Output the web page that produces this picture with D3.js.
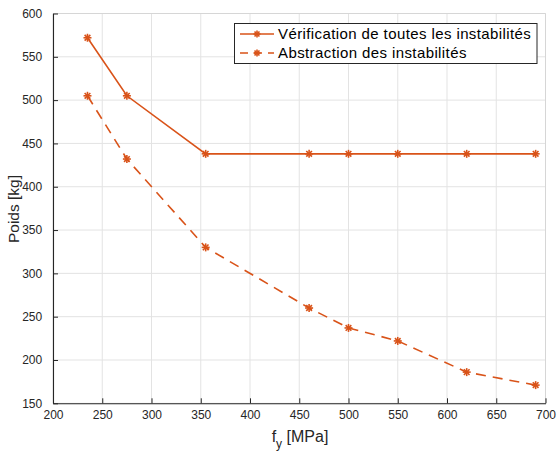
<!DOCTYPE html>
<html>
<head>
<meta charset="utf-8">
<script src="https://cdn.jsdelivr.net/npm/d3@7"></script>
<style>
  html, body { margin: 0; padding: 0; background: #fff; }
  svg { display: block; font-family: "Liberation Sans", Arial, Helvetica, sans-serif; }
</style>
</head>
<body>
<svg id="chart" width="557" height="452"></svg>
<script>
// Yield strength (MPa) tested
const fy = [235, 275, 355, 460, 500, 550, 620, 690];
// Weight (kg) when every instability is checked
const poidsToutes = [572, 505, 438, 438, 438, 438, 438, 438];
// Weight (kg) when instabilities are ignored
const poidsSans = [505, 432, 330, 260, 237, 222, 186, 171];

const xTicks = [200, 250, 300, 350, 400, 450, 500, 550, 600, 650, 700];
const yTicks = [150, 200, 250, 300, 350, 400, 450, 500, 550, 600];

const seriesNames = ["Vérification de toutes les instabilités", "Abstraction des instabilités"];

const color = "#d95319";
const svg = d3.select("#chart");

const plot = { left: 53, right: 545.5, top: 13.5, bottom: 403.3 };
const x = d3.scaleLinear().domain([200, 700]).range([plot.left, plot.right]);
const y = d3.scaleLinear().domain([150, 600]).range([plot.bottom, plot.top]);

// grid
const grid = svg.append("g").attr("stroke", "#e3e3e3").attr("stroke-width", 1);
grid.selectAll(".gx").data(xTicks).join("line")
  .attr("x1", d => x(d)).attr("x2", d => x(d)).attr("y1", plot.top).attr("y2", plot.bottom);
grid.selectAll(".gy").data(yTicks).join("line")
  .attr("y1", d => y(d)).attr("y2", d => y(d)).attr("x1", plot.left).attr("x2", plot.right);

// top and right frame edges
svg.append("line").attr("x1", plot.left).attr("x2", plot.right).attr("y1", plot.top).attr("y2", plot.top)
  .attr("stroke", "#d6d6d6");
svg.append("line").attr("x1", plot.right).attr("x2", plot.right).attr("y1", plot.top).attr("y2", plot.bottom)
  .attr("stroke", "#d6d6d6");

// axes
const xAxis = d3.axisBottom(x).tickValues(xTicks).tickSizeInner(-5).tickSizeOuter(0).tickPadding(9);
const yAxis = d3.axisLeft(y).tickValues(yTicks).tickSizeInner(-5).tickSizeOuter(0).tickPadding(9);

const gx = svg.append("g").attr("transform", `translate(0,${plot.bottom})`).call(xAxis);
const gy = svg.append("g").attr("transform", `translate(${plot.left},0)`).call(yAxis);
[gx, gy].forEach(g => {
  g.select(".domain").attr("stroke", "#262626").attr("stroke-width", 1.1);
  g.selectAll(".tick line").attr("stroke", "#262626");
  g.selectAll(".tick text").attr("fill", "#262626").attr("font-size", 12)
    .attr("font-family", "Liberation Sans, Arial, sans-serif");
});
gx.selectAll(".tick text").attr("dy", "0.55em");
gy.selectAll(".tick text").attr("dx", "-0.15em");

// axis labels
const xl = svg.append("text").attr("x", 300).attr("y", 442).attr("text-anchor", "middle")
  .attr("font-size", 16).attr("fill", "#262626");
xl.append("tspan").text("f");
xl.append("tspan").attr("font-size", 12).attr("dy", 6).text("y");
xl.append("tspan").attr("dy", -6).text(" [MPa]");

svg.append("text").attr("transform", `translate(19,209) rotate(-90)`).attr("text-anchor", "middle")
  .attr("font-size", 15.5).attr("fill", "#262626").text("Poids [kg]");

// marker: MATLAB-style asterisk
function asterisk(g, cx, cy, r) {
  const a = g.append("g").attr("transform", `translate(${cx},${cy})`)
    .attr("stroke", color).attr("stroke-width", 1.6);
  [0, 45, 90, 135].forEach(deg => {
    const t = deg * Math.PI / 180;
    a.append("line").attr("x1", -r * Math.cos(t)).attr("y1", -r * Math.sin(t))
      .attr("x2", r * Math.cos(t)).attr("y2", r * Math.sin(t));
  });
}

const line = d3.line().x(d => x(d[0])).y(d => y(d[1]));
const series = [
  { name: seriesNames[0], values: poidsToutes, dash: null },
  { name: seriesNames[1], values: poidsSans, dash: "10,7" }
];

series.forEach(s => {
  const pts = fy.map((f, i) => [f, s.values[i]]);
  svg.append("path").datum(pts).attr("d", line).attr("fill", "none")
    .attr("stroke", color).attr("stroke-width", 1.6)
    .attr("stroke-dasharray", s.dash);
  const mg = svg.append("g");
  pts.forEach(p => asterisk(mg, x(p[0]), y(p[1]), 4));
});

// legend
const lg = svg.append("g");
lg.append("rect").attr("x", 234.5).attr("y", 23.5).attr("width", 302.5).attr("height", 40)
  .attr("fill", "#fff").attr("stroke", "#262626").attr("stroke-width", 1);
series.forEach((s, i) => {
  const cy = 34 + i * 19;
  lg.append("line").attr("x1", 240).attr("x2", 274).attr("y1", cy).attr("y2", cy)
    .attr("stroke", color).attr("stroke-width", 1.6).attr("stroke-dasharray", s.dash ? "8,6" : null);
  asterisk(lg, 257, cy, 3.5);
  lg.append("text").attr("x", 278).attr("y", cy).attr("dy", "0.35em")
    .attr("font-size", 15).attr("letter-spacing", 0.4).attr("fill", "#000").text(s.name);
});
</script>
</body>
</html>
